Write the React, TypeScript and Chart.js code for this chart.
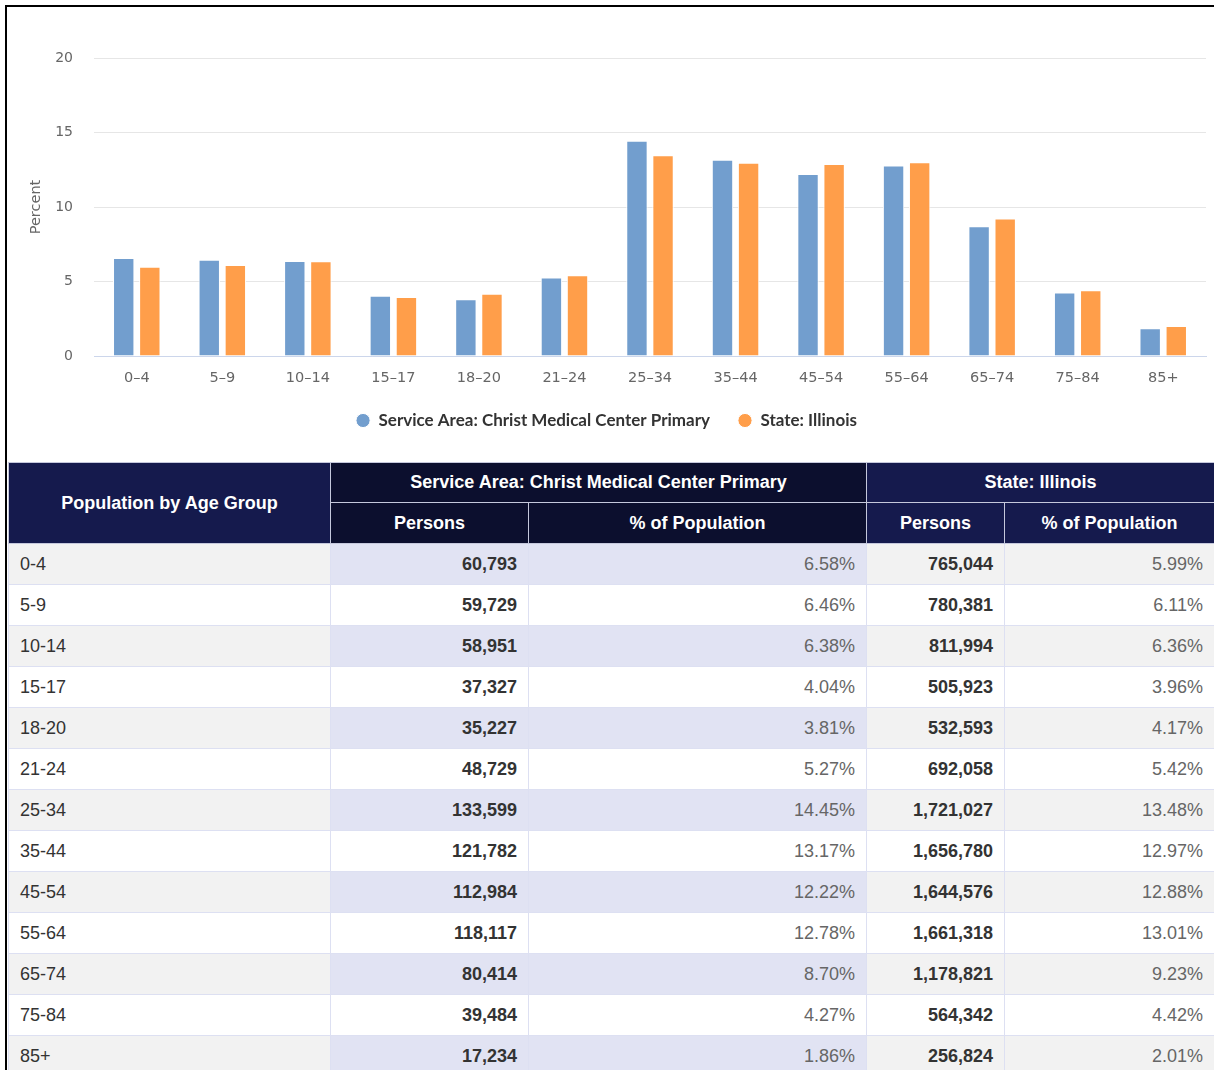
import React, { useEffect, useRef } from "react";
import { Chart, registerables } from "chart.js";

Chart.register(...registerables);

const ageGroups = ["0-4", "5-9", "10-14", "15-17", "18-20", "21-24", "25-34", "35-44", "45-54", "55-64", "65-74", "75-84", "85+"];
const serviceLabel = "Service Area: Christ Medical Center Primary";
const stateLabel = "State: Illinois";
const servicePct = [6.58, 6.46, 6.38, 4.04, 3.81, 5.27, 14.45, 13.17, 12.22, 12.78, 8.7, 4.27, 1.86];
const statePct = [5.99, 6.11, 6.36, 3.96, 4.17, 5.42, 13.48, 12.97, 12.88, 13.01, 9.23, 4.42, 2.01];
const servicePersons = [60793, 59729, 58951, 37327, 35227, 48729, 133599, 121782, 112984, 118117, 80414, 39484, 17234];
const statePersons = [765044, 780381, 811994, 505923, 532593, 692058, 1721027, 1656780, 1644576, 1661318, 1178821, 564342, 256824];
const yTicks = [0, 5, 10, 15, 20];

const BLUE = "#729ece";
const ORANGE = "#ff9e4a";

const fmtInt = (n: number) => n.toLocaleString("en-US");
const fmtPct = (n: number) => n.toFixed(2) + "%";

function BarChart() {
  const ref = useRef<HTMLCanvasElement | null>(null);
  useEffect(() => {
    if (!ref.current) return;
    const chart = new Chart(ref.current, {
      type: "bar",
      data: {
        labels: ageGroups.map((g) => g.replace("-", "–")),
        datasets: [
          { label: serviceLabel, data: servicePct, backgroundColor: BLUE, borderColor: "#ffffff", borderWidth: 1, categoryPercentage: 0.61, barPercentage: 0.82 },
          { label: stateLabel, data: statePct, backgroundColor: ORANGE, borderColor: "#ffffff", borderWidth: 1, categoryPercentage: 0.61, barPercentage: 0.82 },
        ],
      },
      options: {
        animation: false,
        responsive: true,
        maintainAspectRatio: false,
        layout: { padding: { top: 51, right: 8, bottom: 22, left: 0 } },
        plugins: {
          tooltip: { enabled: false },
          legend: {
            position: "bottom",
            labels: {
              usePointStyle: true,
              pointStyle: "circle",
              boxWidth: 14,
              boxHeight: 10,
              padding: 28,
              color: "#333333",
              font: { family: "Lato", size: 17, weight: "bold" },
            },
          },
        },
        scales: {
          x: {
            grid: { display: false, drawTicks: false },
            border: { display: true, color: "#ccd6eb", width: 1 },
            ticks: { color: "#666666", padding: 14, font: { family: "DejaVu Sans", size: 14.5 }, maxRotation: 0 },
            afterFit: (s: any) => { s.height = 28; },
          },
          y: {
            min: 0,
            max: 20,
            afterBuildTicks: (s: any) => { s.ticks = yTicks.map((v) => ({ value: v })); },
            grid: { color: "#e6e6e6", lineWidth: 1, drawTicks: false },
            border: { display: false },
            ticks: { color: "#666666", padding: 21, font: { family: "DejaVu Sans", size: 14 } },
            title: { display: true, text: "Percent", color: "#666666", padding: { top: 21, bottom: 0 }, font: { family: "DejaVu Sans", size: 14.5 } },
            afterFit: (s: any) => { s.width = 87; },
          },
        },
      },
    });
    return () => chart.destroy();
  }, []);
  return (
    <div style={{ position: "relative", width: 1207, height: 454 }}>
      <canvas ref={ref} />
    </div>
  );
}

const headDark = "#0c0f2e";
const headNavy = "#151a4d";
const headBorder = "1px solid #c5c8dc";
const cellBorder = "1px solid #dde0f2";

function DataTable() {
  const th: React.CSSProperties = {
    color: "#ffffff",
    fontWeight: "bold",
    fontSize: 18,
    textAlign: "center",
    border: headBorder,
    padding: 0,
  };
  const td: React.CSSProperties = { fontSize: 18, border: cellBorder, padding: "0 11px", height: 40 };
  return (
    <table
      style={{
        borderCollapse: "collapse",
        width: 1206,
        tableLayout: "fixed",
        fontFamily: "'Liberation Sans', Arial, sans-serif",
        marginLeft: 1,
      }}
    >
      <colgroup>
        <col style={{ width: 322 }} />
        <col style={{ width: 198 }} />
        <col style={{ width: 338 }} />
        <col style={{ width: 138 }} />
        <col style={{ width: 210 }} />
      </colgroup>
      <thead>
        <tr style={{ height: 40 }}>
          <th rowSpan={2} style={{ ...th, background: headNavy }}>Population by Age Group</th>
          <th colSpan={2} style={{ ...th, background: headDark }}>{serviceLabel}</th>
          <th colSpan={2} style={{ ...th, background: headNavy }}>{stateLabel}</th>
        </tr>
        <tr style={{ height: 41 }}>
          <th style={{ ...th, background: headDark }}>Persons</th>
          <th style={{ ...th, background: headDark }}>% of Population</th>
          <th style={{ ...th, background: headNavy }}>Persons</th>
          <th style={{ ...th, background: headNavy }}>% of Population</th>
        </tr>
      </thead>
      <tbody>
        {ageGroups.map((g, i) => {
          const odd = i % 2 === 0;
          const gray = odd ? "#f2f2f2" : "#ffffff";
          const lav = odd ? "#e1e3f3" : "#ffffff";
          return (
            <tr key={g}>
              <td style={{ ...td, background: gray, color: "#333333", textAlign: "left" }}>{g}</td>
              <td style={{ ...td, background: lav, color: "#333333", fontWeight: "bold", textAlign: "right" }}>{fmtInt(servicePersons[i])}</td>
              <td style={{ ...td, background: lav, color: "#666666", textAlign: "right" }}>{fmtPct(servicePct[i])}</td>
              <td style={{ ...td, background: gray, color: "#333333", fontWeight: "bold", textAlign: "right" }}>{fmtInt(statePersons[i])}</td>
              <td style={{ ...td, background: gray, color: "#666666", textAlign: "right" }}>{fmtPct(statePct[i])}</td>
            </tr>
          );
        })}
      </tbody>
    </table>
  );
}

export default function App() {
  return (
    <div
      style={{
        position: "absolute",
        left: 5,
        top: 5,
        width: 1209,
        height: 1065,
        overflow: "hidden",
        borderTop: "2px solid #000",
        borderLeft: "2px solid #000",
        boxSizing: "border-box",
        background: "#ffffff",
      }}
    >
      <BarChart />
      <div style={{ height: 1 }} />
      <DataTable />
    </div>
  );
}
